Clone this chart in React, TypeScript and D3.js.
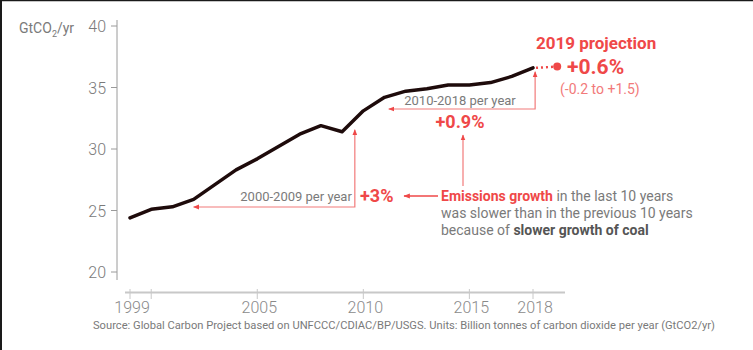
import React, { useEffect } from "react";
import * as d3 from "d3";

const years = [1999, 2000, 2001, 2002, 2003, 2004, 2005, 2006, 2007, 2008, 2009, 2010, 2011, 2012, 2013, 2014, 2015, 2016, 2017, 2018];
const emissions = [24.4, 25.1, 25.3, 25.9, 27.1, 28.3, 29.2, 30.2, 31.2, 31.9, 31.4, 33.1, 34.2, 34.7, 34.9, 35.2, 35.2, 35.4, 35.9, 36.6];
const projectionYear = 2019;
const projectionValue = 36.7;
const yTicks = [20, 25, 30, 35, 40];
const xTickMarks = [1999, 2000, 2005, 2010, 2015, 2018];
const xTickLabels = [1999, 2005, 2010, 2015, 2018];

const RED = "#ef4848";
const LIGHT_RED = "#f27a7a";
const GRAY = "#7a7a7a";
const FONT = "Roboto, 'Liberation Sans', sans-serif";
const NARROW = "'Liberation Sans Narrow', Roboto, sans-serif";

const W = 753;
const H = 350;

export default function App() {
  useEffect(() => {
    document.body.style.margin = "0";
  }, []);

  const x = d3.scaleLinear().domain([1999, 2018]).range([130, 533]);
  const y = d3.scaleLinear().domain([20, 40]).range([272, 26]);

  const pts = years.map((yr, i) => [x(yr), y(emissions[i])] as [number, number]);
  const line = d3.line().curve(d3.curveLinear)(pts) || "";

  const last = pts[pts.length - 1];
  const projX = x(projectionYear) + 3;
  const projY = y(projectionValue);

  // brackets follow the data scale
  const b1Left = x(2002);
  const b1Right = x(2009.6);
  const b1Y = 207;
  const b1Top = y(31.4) - 2;
  const b2Left = x(2011.2);
  const b2Right = x(2018.1);
  const b2Y = 109;
  const b2Top = y(36.6) + 4;

  return (
    <svg width={W} height={H} style={{ display: "block", background: "#fff" }} fontFamily={FONT}>
      <defs>
        <marker id="ah" viewBox="0 0 10 10" refX="9" refY="5" markerWidth="5" markerHeight="5" orient="auto-start-reverse">
          <path d="M0,1 L10,5 L0,9 z" fill={RED} />
        </marker>
      </defs>
      <line x1={0} x2={W} y1={0.5} y2={0.5} stroke="#1a1a1a" strokeWidth={1.5} />
      <line x1={1} x2={1} y1={0} y2={H} stroke="#1a1a1a" strokeWidth={2} />

      {/* y axis */}
      <line x1={117} x2={117} y1={20} y2={280} stroke="#9a9a9a" strokeWidth={1} />
      {yTicks.map(t => (
        <g key={t}>
          <line x1={111} x2={117} y1={y(t)} y2={y(t)} stroke="#9a9a9a" />
          <text x={106} y={y(t) + 6} textAnchor="end" fontSize={16} fill={GRAY} fontWeight={300} fontFamily={NARROW}>{t}</text>
        </g>
      ))}
      <text x={19} y={33} fontSize={14} fill={GRAY}>
        GtCO<tspan fontSize={9} dy={4}>2</tspan><tspan dy={-4}>/yr</tspan>
      </text>

      {/* x axis */}
      <line x1={125} x2={565} y1={292.5} y2={292.5} stroke="#c8c8c8" strokeWidth={2} />
      {xTickMarks.map(t => (
        <line key={t} x1={x(t)} x2={x(t)} y1={289} y2={299} stroke="#c8c8c8" strokeWidth={1} />
      ))}
      {xTickLabels.map(t => (
        <text key={t} x={x(t) + 2} y={313} textAnchor="middle" fontSize={16} fill="#8a8a8a" fontWeight={300} fontFamily={NARROW}>{t}</text>
      ))}

      {/* data line */}
      <path d={line} fill="none" stroke="#1e0b0b" strokeWidth={3.5} strokeLinejoin="round" strokeLinecap="round" />
      <line x1={last[0] + 3} x2={projX} y1={last[1]} y2={projY} stroke={RED} strokeWidth={2.5} strokeDasharray="2,3" />
      <circle cx={projX} cy={projY} r={4} fill={RED} />

      {/* 2000-2009 */}
      <path d={`M${b1Left},${b1Y} L${b1Right},${b1Y} L${b1Right},${b1Top}`} fill="none" stroke={LIGHT_RED} strokeWidth={1.2}
        markerStart="url(#ah)" markerEnd="url(#ah)" />
      <text x={b1Right - 3} y={201} textAnchor="end" fontSize={13} fill={GRAY}>2000-2009 per year</text>
      <text x={360} y={202} fontSize={18} fontWeight="bold" fill={RED}>+3%</text>
      <line x1={438} x2={404} y1={196} y2={196} stroke={RED} strokeWidth={1.3} markerEnd="url(#ah)" />

      {/* 2010-2018 */}
      <path d={`M${b2Left},${b2Y} L${b2Right},${b2Y} L${b2Right},${b2Top}`} fill="none" stroke={LIGHT_RED} strokeWidth={1.2}
        markerStart="url(#ah)" markerEnd="url(#ah)" />
      <text x={460} y={105} textAnchor="middle" fontSize={13} fill={GRAY}>2010-2018 per year</text>
      <text x={460} y={128} textAnchor="middle" fontSize={18} fontWeight="bold" fill={RED}>+0.9%</text>
      <line x1={463} x2={463} y1={186} y2={135} stroke={LIGHT_RED} strokeWidth={1.2} markerEnd="url(#ah)" />

      {/* explanation */}
      <text x={441} y={201} fontSize={14} fill={GRAY}>
        <tspan fontWeight="bold" fill={RED}>Emissions growth</tspan> in the last 10 years
      </text>
      <text x={441} y={218} fontSize={14} fill={GRAY}>was slower than in the previous 10 years</text>
      <text x={441} y={235} fontSize={14} fill={GRAY}>
        because of <tspan fontWeight="bold" fill="#555">slower growth of coal</tspan>
      </text>

      {/* projection */}
      <text x={536} y={49} fontSize={17} fontWeight="bold" fill={RED}>2019 projection</text>
      <text x={567} y={74} fontSize={21} fontWeight="bold" fill={RED}>+0.6%</text>
      <text x={560} y={94} fontSize={14} fill={LIGHT_RED}>(-0.2 to +1.5)</text>

      {/* source */}
      <text x={93} y={329} fontSize={10.5} fill={GRAY} fontFamily={NARROW} textLength={622} lengthAdjust="spacingAndGlyphs">
        Source: Global Carbon Project based on UNFCCC/CDIAC/BP/USGS. Units: Billion tonnes of carbon dioxide per year (GtCO2/yr)
      </text>
    </svg>
  );
}
